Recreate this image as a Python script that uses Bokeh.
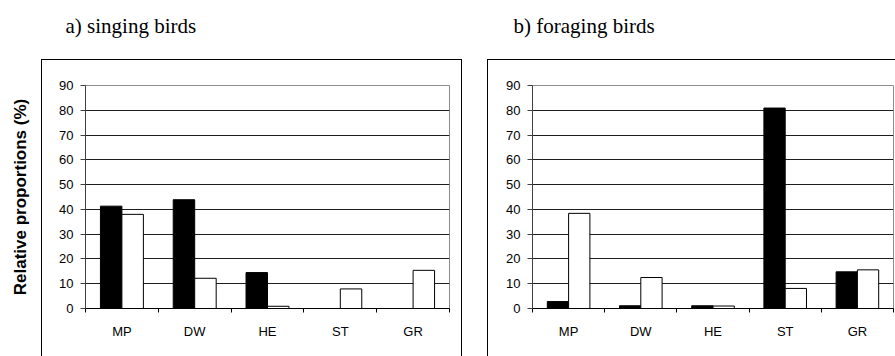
from bokeh.plotting import figure
from bokeh.layouts import row
from bokeh.models import Range1d, FixedTicker, ColumnDataSource, Title
from bokeh.embed import file_html
from bokeh.resources import INLINE

# Habitat categories
categories = ["MP", "DW", "HE", "ST", "GR"]
y_ticks = [0, 10, 20, 30, 40, 50, 60, 70, 80, 90]

# a) singing birds (%)
singing_black = [41.3, 43.9, 14.5, 0.0, 0.0]
singing_white = [38.0, 12.2, 0.9, 7.9, 15.4]

# b) foraging birds (%)
foraging_black = [2.8, 1.1, 1.1, 80.9, 14.8]
foraging_white = [38.4, 12.5, 1.0, 8.1, 15.6]

BAR_W = 0.295
SANS = "Liberation Sans"
SERIF = "Liberation Serif"


def box_css(left, top, width, height):
    """Thin black frame (left, right and top edges) painted behind the canvas."""
    line = "linear-gradient(#000, #000)"
    return {
        "background-color": "white",
        "background-image": ", ".join([line, line, line]),
        "background-repeat": "no-repeat",
        "background-size": f"1px {height}px, 1px {height}px, {width + 1}px 1px",
        "background-position": (f"{left}px {top}px, {left + width}px {top}px, "
                                f"{left}px {top}px"),
    }


def make_panel(title, black, white, width, frame_left, frame_right_pad,
               frame_bottom_pad, box, title_offset, ylabel=None):
    p = figure(width=width, height=356, output_backend="svg",
               toolbar_location=None, x_range=Range1d(0, 5),
               y_range=Range1d(0, 90), min_border_left=frame_left,
               min_border_right=frame_right_pad, min_border_top=85,
               min_border_bottom=frame_bottom_pad, styles=box_css(*box))
    p.background_fill_color = "white"
    p.border_fill_color = None
    p.outline_line_color = "#8c8c8c"
    p.outline_line_width = 1
    p.title.text = ""

    # blank gap between the chart frame and the panel heading
    p.add_layout(Title(text=" ", text_font_size="1px", text_color="white",
                       standoff=45), "above")
    # panel heading
    p.add_layout(Title(text=title, text_font=SERIF, text_font_size="21px",
                       text_font_style="normal", text_color="black",
                       align="left", offset=title_offset, standoff=0,
                       vertical_align="bottom"), "above")

    centers = [i + 0.5 for i in range(len(categories))]
    src = ColumnDataSource(dict(
        xb=[c - BAR_W / 2 for c in centers],
        xw=[c + BAR_W / 2 for c in centers],
        black=black, white=white))
    p.vbar(x="xb", top="black", width=BAR_W, bottom=0, source=src,
           fill_color="black", line_color="black", line_width=1)
    p.vbar(x="xw", top="white", width=BAR_W, bottom=0, source=src,
           fill_color="white", line_color="black", line_width=1)

    # horizontal gridlines
    p.xgrid.visible = False
    p.ygrid.ticker = FixedTicker(ticks=y_ticks[1:-1])
    p.ygrid.grid_line_color = "#1e1e1e"
    p.ygrid.grid_line_width = 1
    p.ygrid.level = "underlay"

    # y axis
    ya = p.yaxis[0]
    ya.ticker = FixedTicker(ticks=y_ticks)
    ya.axis_line_color = "#404040"
    ya.major_tick_line_color = "#404040"
    ya.major_tick_out = 5
    ya.major_tick_in = 0
    ya.minor_tick_out = 0
    ya.minor_tick_in = 0
    ya.major_label_standoff = 7
    ya.major_label_text_font = SANS
    ya.major_label_text_font_size = "13px"
    ya.major_label_text_color = "black"
    if ylabel:
        ya.axis_label = ylabel
        ya.axis_label_text_font = SANS
        ya.axis_label_text_font_size = "17px"
        ya.axis_label_text_font_style = "bold"
        ya.axis_label_text_color = "black"
        ya.axis_label_standoff = 26

    # x axis: ticks between categories, labels at centres
    xa = p.xaxis[0]
    xa.ticker = FixedTicker(ticks=centers, minor_ticks=list(range(6)))
    xa.major_label_overrides = {c: cat for c, cat in zip(centers, categories)}
    xa.axis_line_color = "black"
    xa.major_tick_out = 0
    xa.major_tick_in = 0
    xa.minor_tick_out = 4
    xa.minor_tick_in = 0
    xa.minor_tick_line_color = "black"
    xa.major_label_standoff = 11
    xa.major_label_text_font = SANS
    xa.major_label_text_font_size = "13px"
    xa.major_label_text_color = "black"
    return p


pa = make_panel("a) singing birds", singing_black, singing_white, 474, 85, 25,
                47, (41, 59, 420, 300), -20,
                ylabel="Relative proportions (%)")
pb = make_panel("b) foraging birds", foraging_black, foraging_white, 421, 58, 2,
                48, (13, 59, 420, 300), -19)

layout = row(pa, pb, spacing=0)
open("out.html", "w").write(file_html(layout, INLINE))
